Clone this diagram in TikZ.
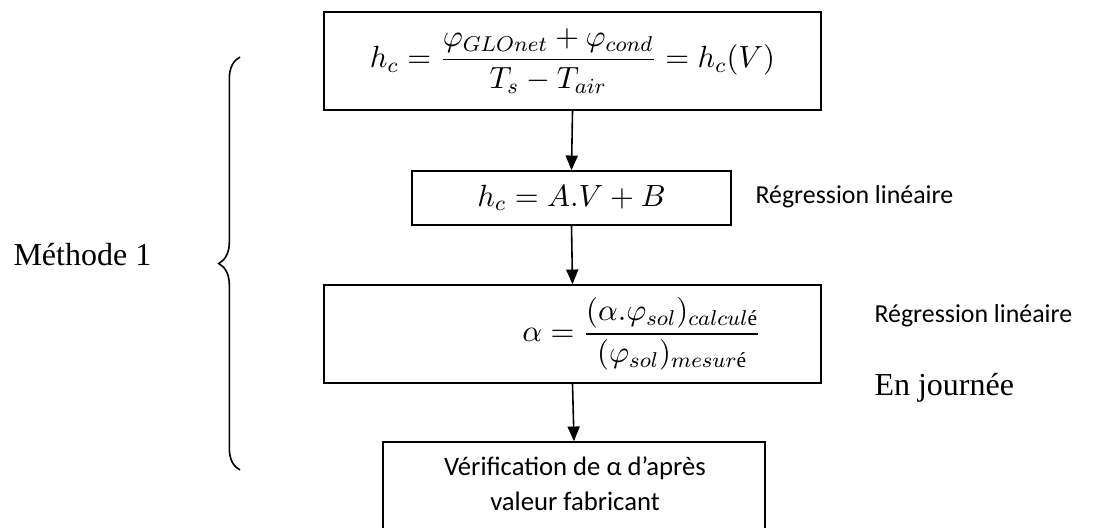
\documentclass[tikz,border=0pt]{standalone}
\usepackage{fix-cm}
\usepackage{amsmath}
\usepackage[no-math]{fontspec}
\setmainfont{Liberation Serif}
\newfontfamily\calibri{Carlito}
\usetikzlibrary{arrows.meta,decorations.pathreplacing}
\begin{document}
\begin{tikzpicture}[x=0.375pt,y=-0.375pt,
  boxnode/.style={draw,line width=0.6pt,inner sep=0pt},
  mathtext/.style={font=\fontsize{11.5}{14}\selectfont},
  sidecal/.style={font=\calibri\fontsize{9.7}{12}\selectfont,anchor=base west,inner sep=0pt},
  sidetimes/.style={font=\fontsize{12}{14}\selectfont,anchor=base west,inner sep=0pt},
  flow/.style={line width=0.6pt,-{Triangle[length=5.5pt,width=4.5pt]}}]
\useasboundingbox (0,0) rectangle (1106,527);
\clip (0,0) rectangle (1106,527);
% boxes
\node[boxnode,mathtext,minimum width=186.4pt,minimum height=36.75pt] (b1) at (572.5,61)
  {$h_c=\dfrac{\varphi_{GLOnet}+\varphi_{cond}}{T_s-T_{air}}=h_c(V)$};
\node[boxnode,mathtext,minimum width=119.6pt,minimum height=20.25pt] (b2) at (571.5,198)
  {$h_c=A.V+B$};
\node[boxnode,minimum width=186.4pt,minimum height=36.75pt] (b3) at (572.5,334) {};
\node[mathtext,inner sep=0pt] (f3) at (642,334)
  {$\alpha=\dfrac{(\alpha.\varphi_{sol})_{calcul\text{é}}}{(\varphi_{sol})_{mesur\text{é}}}$};
\node[boxnode,minimum width=143.25pt,minimum height=37.5pt] (b4) at (574,492) {};
\node[align=center,inner sep=0pt,font=\calibri\fontsize{10}{13.1}\selectfont] (t4) at (575,484)
  {Vérification de α d’après\\valeur fabricant};
% arrows
\draw[flow] (b1.south) -- (b2.north);
\draw[flow] (b2.south) -- (b3.north);
\draw[flow] (b3.south) -- (b4.north);
% side labels
\node[sidecal] (r1) at (755,203) {Régression linéaire};
\node[sidecal] (r2) at (874,322) {Régression linéaire};
\node[sidetimes] (ej) at (874,395) {En journée};
\node[sidetimes] (m1) at (13,265) {Méthode 1};
% brace
\coordinate (braceBot) at (240,470);
\coordinate (braceTop) at (240,57);
\draw[line width=0.6pt,decorate,decoration={brace,amplitude=8pt,aspect=0.5}] (braceBot) -- (braceTop);
\end{tikzpicture}
\end{document}
